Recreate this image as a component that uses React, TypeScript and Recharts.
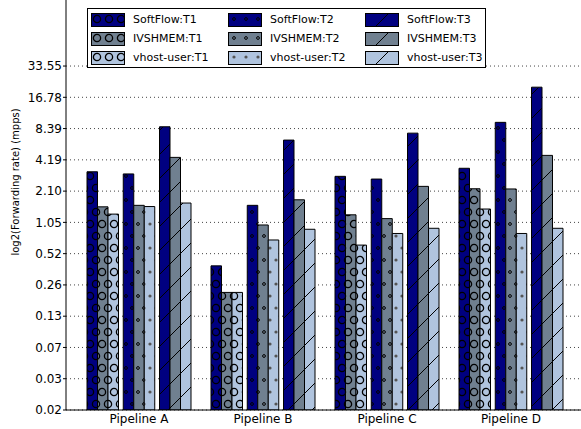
import React from "react";
import { BarChart, Bar, XAxis, YAxis, CartesianGrid, Legend } from "recharts";

const categories = ["Pipeline A", "Pipeline B", "Pipeline C", "Pipeline D"];

// forwarding rate in mpps
const softflowT1 = [3.22, 0.4, 2.91, 3.48];
const ivshmemT1 = [1.48, 0.222, 1.24, 2.21];
const vhostT1 = [1.26, 0.222, 0.634, 1.41];
const softflowT2 = [3.07, 1.53, 2.74, 9.63];
const ivshmemT2 = [1.53, 0.99, 1.14, 2.2];
const vhostT2 = [1.49, 0.71, 0.82, 0.82];
const softflowT3 = [8.73, 6.5, 7.58, 21.0];
const ivshmemT3 = [4.43, 1.73, 2.33, 4.63];
const vhostT3 = [1.61, 0.9, 0.92, 0.92];

// log2 of packets per second: 14 -> 0.02 mpps ... 25 -> 33.55 mpps
const yTicks = [14, 15, 16, 17, 18, 19, 20, 21, 22, 23, 24, 25];

const NAVY = "#000080";
const SLATE = "#708090";
const STEEL = "#b0c4de";

const series = [
  { key: "s1", name: "SoftFlow:T1", values: softflowT1, fill: "url(#t1-navy)" },
  { key: "i1", name: "IVSHMEM:T1", values: ivshmemT1, fill: "url(#t1-slate)" },
  { key: "v1", name: "vhost-user:T1", values: vhostT1, fill: "url(#t1-steel)" },
  { key: "s2", name: "SoftFlow:T2", values: softflowT2, fill: "url(#t2-navy)" },
  { key: "i2", name: "IVSHMEM:T2", values: ivshmemT2, fill: "url(#t2-slate)" },
  { key: "v2", name: "vhost-user:T2", values: vhostT2, fill: "url(#t2-steel)" },
  { key: "s3", name: "SoftFlow:T3", values: softflowT3, fill: "url(#t3-navy)" },
  { key: "i3", name: "IVSHMEM:T3", values: ivshmemT3, fill: "url(#t3-slate)" },
  { key: "v3", name: "vhost-user:T3", values: vhostT3, fill: "url(#t3-steel)" },
];

const data = categories.map((name, i) => {
  const row: Record<string, number | string> = { name };
  series.forEach((s) => {
    row[s.key] = Math.log2(s.values[i] * 1e6);
  });
  return row;
});

const FONT = "'DejaVu Sans', sans-serif";

function Patterns({ id, color, dot }: { id: string; color: string; dot?: boolean }) {
  return (
    <>
      <pattern id={`t1-${id}`} patternUnits="userSpaceOnUse" width={12} height={24}>
        <rect width={12} height={24} fill={color} />
        {[
          [6, 6],
          [0, 18],
          [12, 18],
        ].map(([cx, cy], k) => (
          <circle key={k} cx={cx} cy={cy} r={3.6} fill="none" stroke="#000" strokeWidth={1.3} />
        ))}
      </pattern>
      <pattern id={`t2-${id}`} patternUnits="userSpaceOnUse" width={12} height={24}>
        <rect width={12} height={24} fill={color} />
        {[
          [6, 6],
          [0, 18],
          [12, 18],
        ].map(([cx, cy], k) =>
          dot ? (
            <circle key={k} cx={cx} cy={cy} r={1.6} fill="#555" />
          ) : (
            <circle key={k} cx={cx} cy={cy} r={1.4} fill="none" stroke="#000" strokeWidth={1} />
          )
        )}
      </pattern>
      <pattern id={`t3-${id}`} patternUnits="userSpaceOnUse" width={24} height={24}>
        <rect width={24} height={24} fill={color} />
        <path d="M0,24 L24,0 M-6,6 L6,-6 M18,30 L30,18" stroke="#000" strokeWidth={1} />
      </pattern>
    </>
  );
}

function LegendBox() {
  return (
    <div
      style={{
        position: "relative",
        width: 399,
        height: 60,
        border: "1px solid #000",
        background: "#fff",
        boxSizing: "border-box",
        fontFamily: FONT,
        fontSize: 11,
        color: "#000",
      }}
    >
      {series.map((s, i) => {
        const col = Math.floor(i / 3);
        const row = i % 3;
        const cy = 11 + row * 19;
        return (
          <React.Fragment key={s.key}>
            <svg
              width={34}
              height={14}
              style={{ position: "absolute", left: 3 + col * 137, top: cy - 7 }}
            >
              <rect x={0.5} y={0.5} width={33} height={13} fill={s.fill} stroke="#000" strokeWidth={1} />
            </svg>
            <span
              style={{
                position: "absolute",
                left: 45 + col * 137,
                top: cy - 7,
                lineHeight: "14px",
                whiteSpace: "nowrap",
              }}
            >
              {s.name}
            </span>
          </React.Fragment>
        );
      })}
    </div>
  );
}

export default function App() {
  const bars: React.ReactNode[] = [];
  series.forEach((s, i) => {
    if (i === 3 || i === 6) {
      bars.push(
        <Bar key={`gap${i}`} dataKey={`gap${i}`} barSize={4.75} fill="none" legendType="none" isAnimationActive={false} />
      );
    }
    bars.push(
      <Bar
        key={s.key}
        dataKey={s.key}
        name={s.name}
        barSize={10.5}
        fill={s.fill}
        stroke="#000"
        strokeWidth={1}
        isAnimationActive={false}
      />
    );
  });

  return (
    <div
      style={{
        position: "absolute",
        left: 0,
        top: 0,
        width: 581,
        height: 429,
        overflow: "hidden",
        background: "#fff",
        fontFamily: FONT,
      }}
    >
      <div style={{ position: "absolute", left: 0, top: -46 }}>
        <BarChart
          width={600}
          height={475}
          data={data}
          margin={{ top: 0, right: 16, bottom: 0, left: 0 }}
          barGap={0}
        >
          <defs>
            <Patterns id="navy" color={NAVY} />
            <Patterns id="slate" color={SLATE} />
            <Patterns id="steel" color={STEEL} dot />
          </defs>
          <CartesianGrid vertical={false} stroke="#444" strokeDasharray="1 3" />
          <XAxis
            dataKey="name"
            height={19}
            padding={{ left: 11, right: 11 }}
            tickLine={false}
            tickSize={0}
            tickMargin={4}
            axisLine={{ stroke: "#000" }}
            tick={{ fill: "#000", fontSize: 12, fontFamily: FONT }}
          />
          <YAxis
            type="number"
            width={66}
            domain={[14, 28.583]}
            ticks={yTicks}
            allowDataOverflow
            tickFormatter={(t: number) => (2 ** t / 1e6).toFixed(2)}
            tickSize={3}
            tickMargin={1}
            tickLine={{ stroke: "#000" }}
            axisLine={{ stroke: "#000" }}
            tick={{ fill: "#000", fontSize: 12, fontFamily: FONT }}
            label={{
              content: ({ viewBox }: any) => {
                const cy = viewBox.y + viewBox.height / 2;
                return (
                  <text
                    x={15}
                    y={cy}
                    transform={`rotate(-90, 15, ${cy})`}
                    textAnchor="middle"
                    dominantBaseline="central"
                    fontSize={10}
                    fontFamily={FONT}
                    fill="#000"
                  >
                    log2(Forwarding rate) (mpps)
                  </text>
                );
              },
            }}
          />
          <Legend
            layout="horizontal"
            verticalAlign="middle"
            align="center"
            wrapperStyle={{ top: 54, left: 87, width: 399 }}
            content={() => <LegendBox />}
          />
          {bars}
        </BarChart>
      </div>
    </div>
  );
}
